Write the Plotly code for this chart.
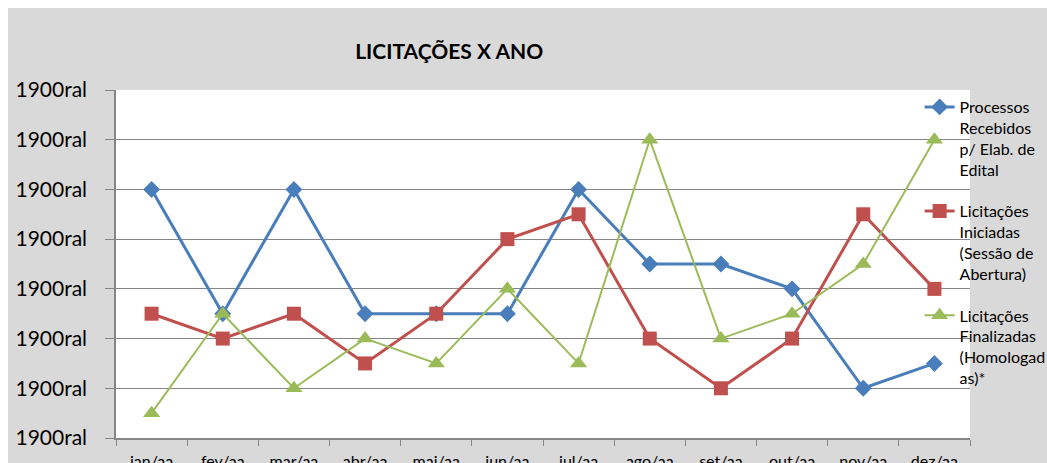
import plotly.graph_objects as go

# Monthly categories and the three tracked series
months = ["jan/aa", "fev/aa", "mar/aa", "abr/aa", "mai/aa", "jun/aa",
          "jul/aa", "ago/aa", "set/aa", "out/aa", "nov/aa", "dez/aa"]
recebidos = [5, 2.5, 5, 2.5, 2.5, 2.5, 5, 3.5, 3.5, 3, 1, 1.5]
iniciadas = [2.5, 2, 2.5, 1.5, 2.5, 4, 4.5, 2, 1, 2, 4.5, 3]
finalizadas = [0.5, 2.5, 1, 2, 1.5, 3, 1.5, 6, 2, 2.5, 3.5, 6]

# Y-axis tick positions and their (date-formatted) labels
y_ticks = [0, 1, 2, 3, 4, 5, 6, 7]
y_labels = ["1900ral"] * 8

series_names = [
    "Processos<br>Recebidos<br>p/ Elab. de<br>Edital",
    "Licitações<br>Iniciadas<br>(Sessão de<br>Abertura)",
    "Licitações<br>Finalizadas<br>(Homologad<br>as)*",
]

FONT = "Lato"
GRID = "#868686"

fig = go.Figure()
fig.add_trace(go.Scatter(
    x=months, y=recebidos, name=series_names[0], legendgroup="a",
    mode="lines+markers",
    line=dict(color="#4A7EBB", width=3),
    marker=dict(symbol="diamond", size=13, color="#4A7EBB"),
))
fig.add_trace(go.Scatter(
    x=months, y=iniciadas, name=series_names[1], legendgroup="b",
    mode="lines+markers",
    line=dict(color="#C0504D", width=3),
    marker=dict(symbol="square", size=14, color="#C0504D"),
))
fig.add_trace(go.Scatter(
    x=months, y=finalizadas, name=series_names[2], legendgroup="c",
    mode="lines+markers",
    line=dict(color="#9BBB59", width=2),
    marker=dict(symbol="triangle-up", size=15, color="#9BBB59"),
))

fig.update_layout(
    width=1047, height=463,
    margin=dict(l=116, r=77, t=90, b=25, autoexpand=False),
    paper_bgcolor="#D9D9D9",
    plot_bgcolor="white",
    font=dict(family=FONT, color="#000000"),
    title=dict(
        text="<b>LICITAÇÕES X ANO</b>",
        x=0.429, xanchor="center", y=0.888, yanchor="middle",
        font=dict(family=FONT, size=21, color="#000000"),
    ),
    showlegend=True,
    legend=dict(
        x=0.941, xanchor="left", y=1.0, yanchor="top",
        bgcolor="rgba(0,0,0,0)",
        font=dict(family=FONT, size=16, color="#000000"),
        valign="top",
        tracegroupgap=18,
        itemclick=False,
    ),
    shapes=[
        # thin white strips along the top and left edges
        dict(type="rect", xref="paper", yref="paper",
             x0=-0.2, x1=1.2, y0=1.2356, y1=1.3,
             fillcolor="white", line=dict(width=0), layer="below"),
        dict(type="rect", xref="paper", yref="paper",
             x0=-0.2, x1=-0.1265, y0=-0.2, y1=1.3,
             fillcolor="white", line=dict(width=0), layer="below"),
    ],
)

fig.update_xaxes(
    type="category",
    categoryorder="array", categoryarray=months,
    range=[-0.5, len(months) - 0.5],
    automargin=False,
    showline=True, linecolor=GRID, linewidth=1.5,
    ticks="outside", tickson="boundaries", ticklen=6, tickcolor=GRID,
    showgrid=False,
    ticklabelstandoff=8,
    tickfont=dict(family=FONT, size=16, color="#000000"),
)
fig.update_yaxes(
    range=[0, 7],
    automargin=False,
    tickvals=y_ticks, ticktext=y_labels,
    showline=True, linecolor=GRID, linewidth=1.5,
    ticks="outside", ticklen=9, tickcolor=GRID,
    showgrid=True, gridcolor=GRID, gridwidth=1.2,
    zeroline=False,
    ticklabelstandoff=14,
    tickfont=dict(family=FONT, size=21, color="#000000"),
)

fig.write_html("out.html")
